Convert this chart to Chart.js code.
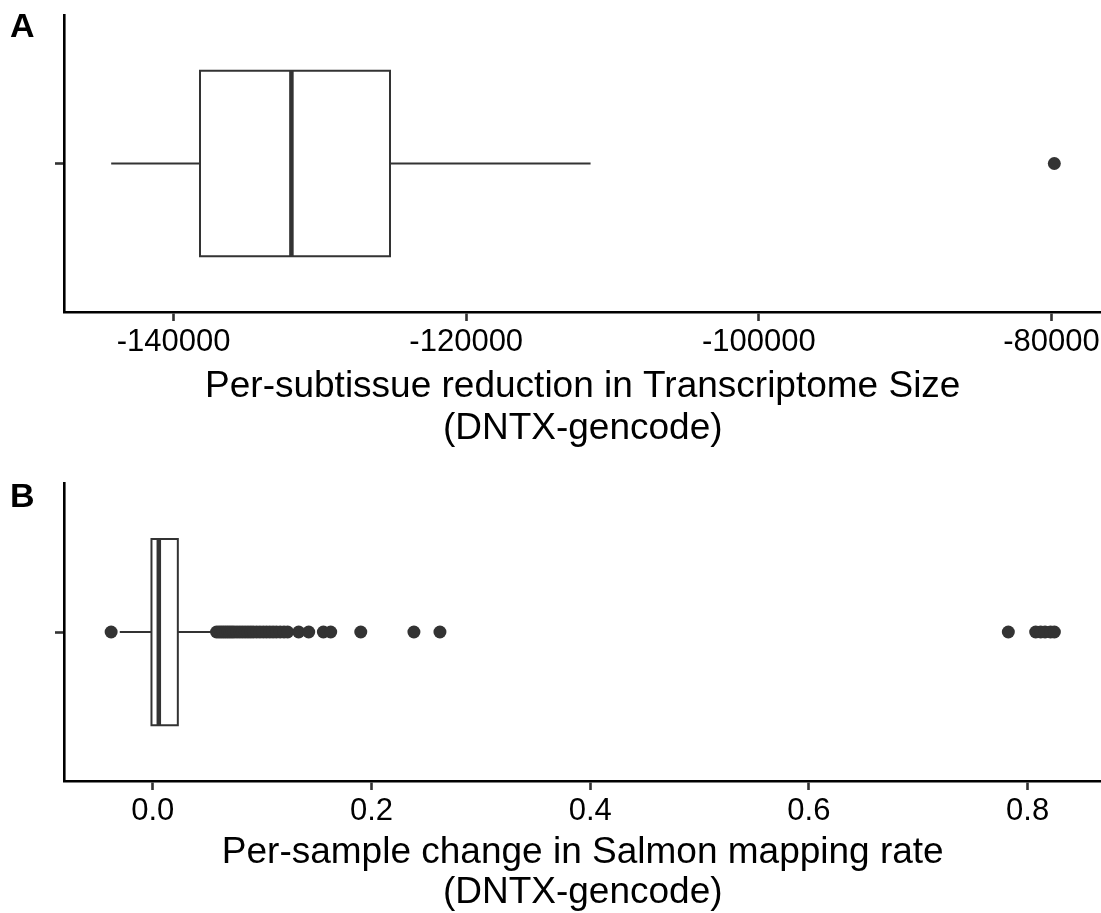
<!DOCTYPE html>
<html>
<head>
<meta charset="utf-8">
<script src="https://cdn.jsdelivr.net/npm/chart.js@4/dist/chart.umd.min.js"></script>
<style>
  body { margin: 0; background: #fff; }
  #wrap { position: relative; width: 1101px; height: 913px; overflow: hidden; }
  canvas { position: absolute; left: 0; }
  .tag { position: absolute; left: 10px; font: bold 34px "Liberation Sans", Arial, sans-serif; line-height: 34px; color: #000; }
</style>
</head>
<body>
<div id="wrap">
  <!-- canvases are a few px wider than the page: Chart.js keeps room for the last tick label,
       ggplot lets the axis run to the edge -->
  <canvas id="chartA" width="1108" height="456" style="top:0"></canvas>
  <canvas id="chartB" width="1108" height="457" style="top:456px"></canvas>
  <div class="tag" style="top:8px">A</div>
  <div class="tag" style="top:478px">B</div>
</div>
<script>
// panel A: per-subtissue reduction in transcriptome size
// box stats: lower whisker, Q1, median, Q3, upper whisker
const sizeBox = [-144270, -138200, -131950, -125210, -111500];
const sizeOutliers = [-79800];
const sizeTicks = [-140000, -120000, -100000, -80000];
const sizeRange = [-147495, -76575];
const sizeTitle = ['Per-subtissue reduction in Transcriptome Size', '(DNTX-gencode)'];

// panel B: per-sample change in Salmon mapping rate
const rateBox = [-0.0302, -0.0012, 0.0055, 0.0229, 0.0538];
const rateOutliers = [
  -0.0381,
  0.0583, 0.0605, 0.0625, 0.0645, 0.0665, 0.0685, 0.0705, 0.0725, 0.0745,
  0.0770, 0.0795, 0.0820, 0.0845, 0.0870, 0.0895, 0.0920, 0.0950, 0.0980,
  0.1010, 0.1040, 0.1070, 0.1100, 0.1130, 0.1165, 0.1200, 0.1233,
  0.1334, 0.1426, 0.1560, 0.1627, 0.1902, 0.2388, 0.2626,
  0.7824, 0.8074, 0.8120, 0.8160, 0.8210, 0.8245
];
const rateTicks = [0.0, 0.2, 0.4, 0.6, 0.8];
const rateRange = [-0.0812, 0.8676];
const rateTitle = ['Per-sample change in Salmon mapping rate', '(DNTX-gencode)'];

const FONT = '"Liberation Sans", Arial, Helvetica, sans-serif';
const INK = '#333333';
const BOX_LO = 0.625, BOX_HI = 1.375, MID = 1;

function boxDatasets(stats, outliers) {
  const [lo, q1, med, q3, hi] = stats;
  const line = { showLine: true, pointRadius: 0, borderColor: INK, borderWidth: 2, fill: false, tension: 0 };
  return [
    Object.assign({ data: [{x: lo, y: MID}, {x: q1, y: MID}] }, line),
    Object.assign({ data: [{x: q3, y: MID}, {x: hi, y: MID}] }, line),
    Object.assign({
      data: [{x: q1, y: BOX_LO}, {x: q3, y: BOX_LO}, {x: q3, y: BOX_HI}, {x: q1, y: BOX_HI}, {x: q1, y: BOX_LO}],
      borderCapStyle: 'square'
    }, line),
    Object.assign({}, line, { data: [{x: med, y: BOX_LO}, {x: med, y: BOX_HI}], borderWidth: 4.5 }),
    {
      data: outliers.map(v => ({x: v, y: MID})),
      showLine: false,
      pointRadius: 6.5,
      pointBackgroundColor: INK,
      pointBorderWidth: 0
    }
  ];
}

function makePanel(id, stats, outliers, range, ticks, title, fmt, pad, xHeight) {
  new Chart(document.getElementById(id), {
    type: 'scatter',
    data: { datasets: boxDatasets(stats, outliers) },
    options: {
      responsive: false,
      animation: false,
      layout: { padding: { top: pad.top, left: 0, right: 0, bottom: 0 } },
      plugins: { legend: { display: false }, tooltip: { enabled: false } },
      scales: {
        x: {
          type: 'linear',
          min: range[0],
          max: range[1],
          afterBuildTicks: (scale) => { scale.ticks = ticks.map(v => ({ value: v })); },
          afterFit: (scale) => { scale.height = xHeight; },
          border: { display: true, color: '#000', width: 2.6 },
          grid: { drawOnChartArea: false, drawTicks: true, tickLength: 9, tickWidth: 2.6, tickColor: INK },
          ticks: {
            padding: 3,
            maxRotation: 0,
            autoSkip: false,
            color: '#000',
            font: { family: FONT, size: 31 },
            callback: (v) => fmt(v)
          },
          title: {
            display: true,
            text: title,
            color: '#000',
            font: { family: FONT, size: 37, lineHeight: pad.titleLine },
            padding: { top: 0, bottom: pad.titleBottom }
          }
        },
        y: {
          type: 'linear',
          min: 0.4,
          max: 1.6,
          afterBuildTicks: (scale) => { scale.ticks = [{ value: MID }]; },
          afterFit: (scale) => { scale.width = 64; },
          border: { display: true, color: '#000', width: 2.6 },
          grid: { drawOnChartArea: false, drawTicks: true, tickLength: 9, tickWidth: 2.6, tickColor: INK },
          ticks: { callback: () => '', padding: 0 }
        }
      }
    }
  });
}

makePanel('chartA', sizeBox, sizeOutliers, sizeRange, sizeTicks, sizeTitle,
  (v) => v.toString(), { top: 15, titleBottom: 6, titleLine: 1.14 }, 144);
makePanel('chartB', rateBox, rateOutliers, rateRange, rateTicks, rateTitle,
  (v) => v.toFixed(1), { top: 27, titleBottom: 1, titleLine: 1.06 }, 132);
</script>
</body>
</html>
